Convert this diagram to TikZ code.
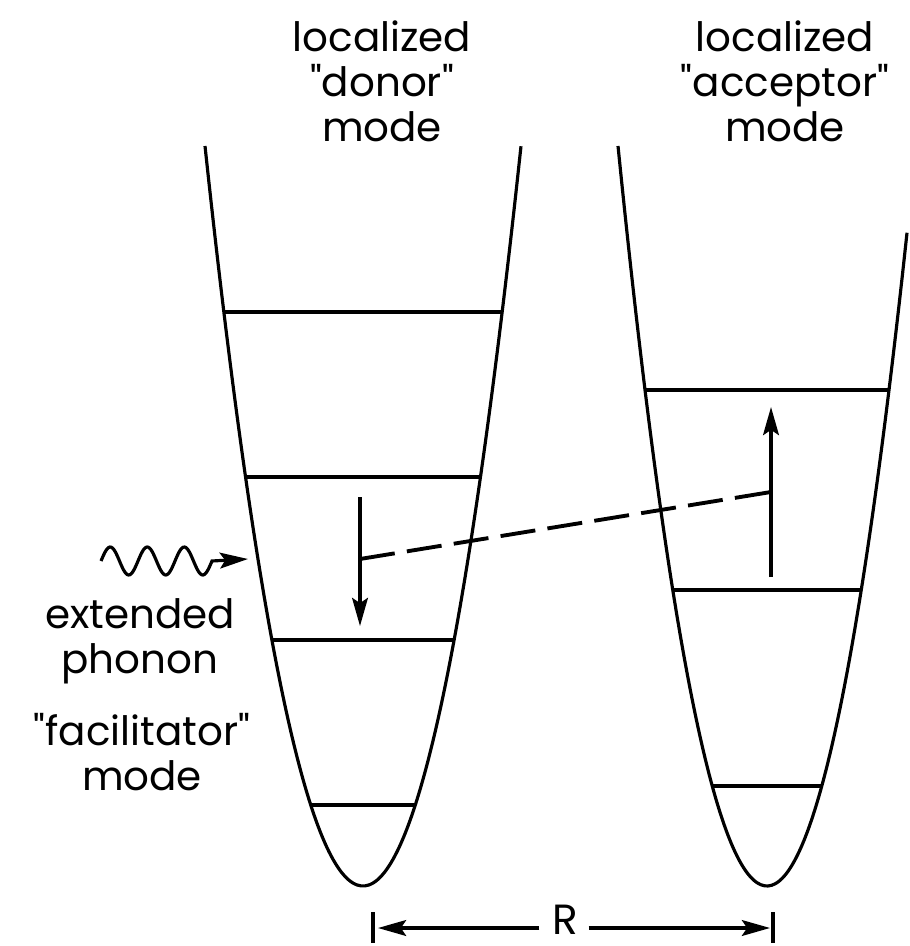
\documentclass[tikz,border=0pt]{standalone}
\usepackage{fontspec}
\setmainfont{Poppins}
\usepackage{tikz}
\usetikzlibrary{arrows.meta, calc}
\tikzset{
    well/.style={draw=black, line width=0.9pt},
    level/.style={draw=black, line width=0.9pt},
    jump/.style={line width=0.9pt, -{Stealth[length=8pt, width=4.5pt, inset=1.5pt]}},
    link/.style={line width=1.1pt, dash pattern=on 10pt off 3.5pt},
    label/.style={font=\fontsize{11.5}{12.8}\selectfont, align=center, inner sep=0pt}
}
\newcommand{\qq}[1]{\textquotedbl#1\textquotedbl}

\begin{document}
\begin{tikzpicture}[x=0.01cm, y=-0.01cm]
    \useasboundingbox (0,0) rectangle (909,946);
    % the two wells
    \draw[well] plot[variable=\t, domain=-1:1, samples=80, smooth] ({363+158*\t},{886-740*\t*\t});
    \draw[well] plot[variable=\t, domain=-1:0.94, samples=80, smooth] ({767+149*\t},{886-740*\t*\t});
    \foreach \lv in {312,477,640,805}
        \draw[level] ({363-158*sqrt((886-\lv)/740)},\lv) -- ({363+158*sqrt((886-\lv)/740)},\lv);
    \foreach \lv in {390,590,786}
        \draw[level] ({767-149*sqrt((886-\lv)/740)},\lv) -- ({767+149*sqrt((886-\lv)/740)},\lv);

    \node[label, anchor=north] (donor) at (382,20) {localized\\\qq{donor}\\mode};
    \node[label, anchor=north] (acceptor) at (785,20) {localized\\\qq{acceptor}\\mode};
    \node[label, anchor=north] (phonon) at (140,598) {extended\\phonon};
    \node[label, anchor=north] (facil) at (142,713) {\qq{facilitator}\\mode};

    % transitions
    \coordinate (dtop) at (360,497);
    \coordinate (dtip) at (360,626);
    \coordinate (atail) at (771,577);
    \coordinate (atip) at (771,407);
    \coordinate (ldash) at (360,559);
    \coordinate (rdash) at (771,492);
    \draw[jump] (dtop) -- (dtip);
    \draw[jump] (atail) -- (atip);
    \draw[link] (ldash) -- (rdash);

    % incoming phonon
    \coordinate (wavetip) at (248,559);
    \draw[jump] plot[domain=101:212, samples=90, smooth] (\x,{561-14*sin(9.73*(\x-101))}) -- (wavetip);

    % distance R
    \node[label, font=\fontsize{12}{14}\selectfont] (R) at (565,920) {R};
    \coordinate (lbar) at (373,928);
    \coordinate (rbar) at (773,928);
    \draw[line width=0.9pt] ($(lbar)+(0,-16)$) -- ($(lbar)+(0,15)$);
    \draw[line width=0.9pt] ($(rbar)+(0,-16)$) -- ($(rbar)+(0,15)$);
    \draw[jump] ($(R.west)+(-12,8)$) -- ($(lbar)+(5,0)$);
    \draw[jump] ($(R.east)+(10,8)$) -- ($(rbar)+(-3,0)$);
\end{tikzpicture}
\end{document}
